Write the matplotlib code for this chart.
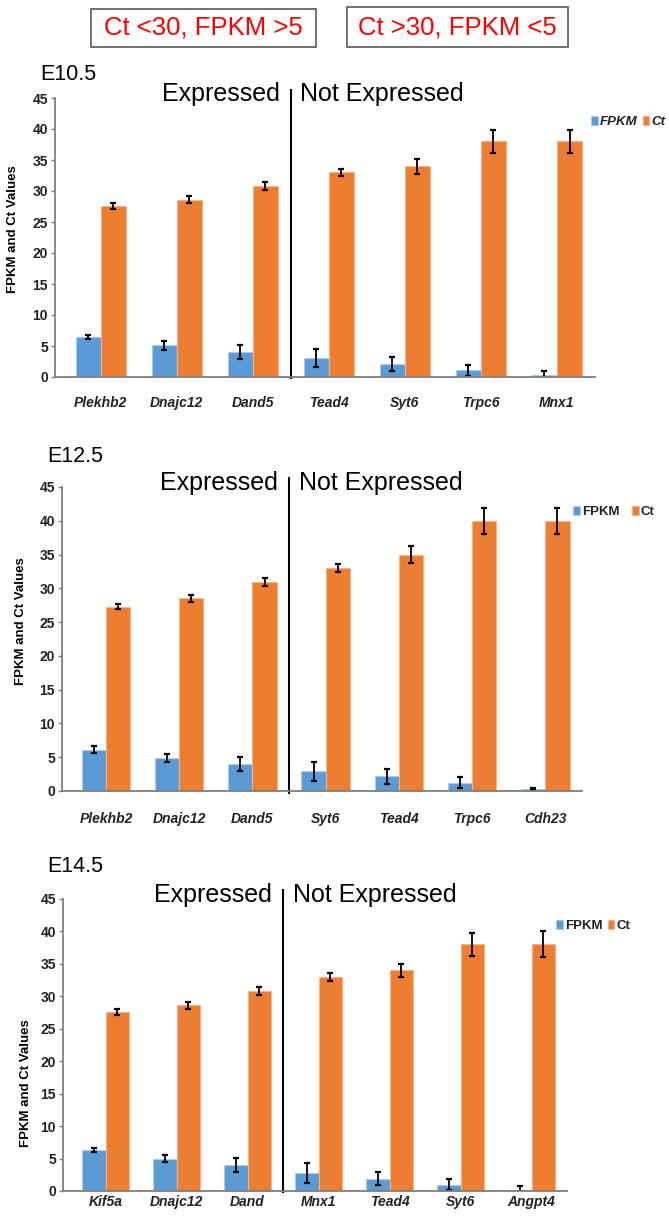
import matplotlib
matplotlib.use("Agg")
import matplotlib.pyplot as plt
from matplotlib.patches import Rectangle

plt.rcParams['font.family'] = ['Liberation Sans', 'DejaVu Sans']

# E10.5
genes_e105 = ['Plekhb2', 'Dnajc12', 'Dand5', 'Tead4', 'Syt6', 'Trpc6', 'Mnx1']
fpkm_e105 = [6.4, 5.1, 4.0, 3.0, 2.1, 1.1, 0.25]
fpkm_err_e105 = [0.3, 0.7, 1.1, 1.45, 1.1, 0.9, 0.7]
ct_e105 = [27.6, 28.6, 30.8, 33.0, 34.0, 38.0, 38.0]
ct_err_e105 = [0.5, 0.6, 0.7, 0.6, 1.2, 1.9, 1.9]

# E12.5
genes_e125 = ['Plekhb2', 'Dnajc12', 'Dand5', 'Syt6', 'Tead4', 'Trpc6', 'Cdh23']
fpkm_e125 = [6.1, 4.9, 4.0, 2.9, 2.2, 1.2, 0.3]
fpkm_err_e125 = [0.5, 0.6, 1.0, 1.4, 1.1, 0.8, 0.1]
ct_e125 = [27.3, 28.5, 31.0, 33.0, 35.0, 40.0, 40.0]
ct_err_e125 = [0.4, 0.5, 0.6, 0.6, 1.2, 1.9, 1.9]

# E14.5
genes_e145 = ['Kif5a', 'Dnajc12', 'Dand', 'Mnx1', 'Tead4', 'Syt6', 'Angpt4']
fpkm_e145 = [6.3, 5.0, 4.0, 2.8, 1.9, 1.0, 0.2]
fpkm_err_e145 = [0.3, 0.6, 1.1, 1.5, 1.0, 0.9, 0.6]
ct_e145 = [27.6, 28.6, 30.8, 33.0, 34.0, 38.0, 38.0]
ct_err_e145 = [0.5, 0.5, 0.6, 0.6, 1.0, 1.8, 2.0]

header_labels = ['Ct <30, FPKM >5', 'Ct >30, FPKM <5']
yticks = list(range(0, 50, 5))

BLUE = '#5B9BD5'
ORANGE = '#ED7D31'
INK = '#222222'

W, H = 669, 1223
fig = plt.figure(figsize=(W / 100, H / 100), dpi=100)


def add_axes_px(left, right, top, bottom):
    """Axes placed by pixel edges (top/bottom measured from the top)."""
    return fig.add_axes([left / W, 1 - bottom / H, (right - left) / W, (bottom - top) / H])


def draw_panel(ax, genes, fpkm, fpkm_err, ct, ct_err, title, title_xy,
               ylab_xy, leg_xy, leg_italic, leg_gap, xpad):
    x = list(range(len(genes)))
    w = 0.33
    err_style = dict(ecolor='black', elinewidth=1.3, capsize=2.2, capthick=1.6)
    ax.bar([i - w / 2 for i in x], fpkm, w, yerr=fpkm_err, color=BLUE,
           edgecolor='#a9cbec', linewidth=0.8, error_kw=err_style, label='FPKM')
    ax.bar([i + w / 2 for i in x], ct, w, yerr=ct_err, color=ORANGE,
           edgecolor='#f5b58c', linewidth=0.8, error_kw=err_style, label='Ct')

    ax.set_xlim(-0.6, 6.5)
    ax.set_ylim(0, 45)
    ax.set_yticks(yticks)
    ax.set_xticks(x)
    ax.set_xticklabels(genes, fontweight='bold', style='italic', fontsize=10, color=INK)
    for lab in ax.get_yticklabels():
        lab.set_fontweight('bold')
        lab.set_fontsize(10)
        lab.set_color(INK)
    ax.tick_params(axis='x', length=0, pad=xpad)
    ax.tick_params(axis='y', length=3, width=1, color='#7f7f7f', pad=2)
    for side in ('top', 'right'):
        ax.spines[side].set_visible(False)
    for side in ('left', 'bottom'):
        ax.spines[side].set_color('#7f7f7f')
        ax.spines[side].set_linewidth(1.3)

    ax.set_ylabel('FPKM and Ct Values', fontsize=9.5, fontweight='bold')
    ax.yaxis.set_label_coords(*ylab_xy)

    # split between expressed and not expressed genes
    ax.axvline(2.5, ymin=-0.005, ymax=1.03, color='black', lw=1.5, clip_on=False)
    ax.annotate('Expressed', xy=(2.5, 1.0), xycoords=('data', 'axes fraction'),
                xytext=(-8, -2), textcoords='offset points', ha='right',
                va='baseline', fontsize=18)
    ax.annotate('Not Expressed', xy=(2.5, 1.0), xycoords=('data', 'axes fraction'),
                xytext=(7, -2), textcoords='offset points', ha='left',
                va='baseline', fontsize=18)

    fig.text(title_xy[0] / W, 1 - title_xy[1] / H, title, fontsize=15.5, va='baseline')

    leg = ax.legend(loc='center right', bbox_to_anchor=leg_xy, ncol=2, frameon=False,
                    handlelength=0.5, handleheight=0.7, handletextpad=0.15,
                    columnspacing=leg_gap, borderpad=0, borderaxespad=0,
                    prop=dict(weight='bold', size=9.5,
                              style='italic' if leg_italic else 'normal'))
    for t in leg.get_texts():
        t.set_color(INK)


# header boxes
for label, (bx0, bx1, by0, by1) in zip(header_labels, [(91, 316, 9, 47), (347, 568, 7, 47)]):
    fig.add_artist(Rectangle((bx0 / W, 1 - by1 / H), (bx1 - bx0) / W, (by1 - by0) / H,
                             transform=fig.transFigure, fill=False,
                             edgecolor='#666666', linewidth=1.3))
    fig.text((bx0 + bx1) / 2 / W, 1 - (by0 + by1) / 2 / H, label, color='red',
             fontsize=18.5, ha='center', va='center')

ax1 = add_axes_px(55, 595, 98, 377)
draw_panel(ax1, genes_e105, fpkm_e105, fpkm_err_e105, ct_e105, ct_err_e105,
           'E10.5', (40, 80), (-0.066, 0.53), (1.13, 0.915), True, 0.4, 14)

ax2 = add_axes_px(62, 582, 487, 791)
draw_panel(ax2, genes_e125, fpkm_e125, fpkm_err_e125, ct_e125, ct_err_e125,
           'E12.5', (47, 462), (-0.067, 0.56), (1.14, 0.918), False, 1.0, 15)

ax3 = add_axes_px(63, 567, 899, 1191)
draw_panel(ax3, genes_e145, fpkm_e145, fpkm_err_e145, ct_e145, ct_err_e145,
           'E14.5', (47, 872), (-0.062, 0.37), (1.125, 0.907), False, 0.4, 3)

fig.savefig('out.png', dpi=100)
